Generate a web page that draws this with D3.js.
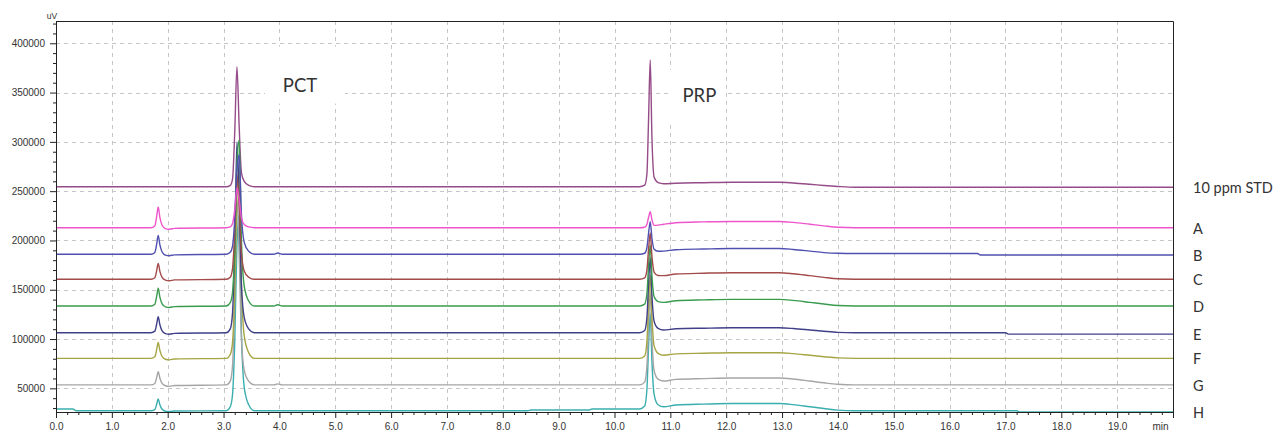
<!DOCTYPE html>
<html><head><meta charset="utf-8">
<script src="https://cdn.jsdelivr.net/npm/d3@7"></script>
<style>
html,body{margin:0;padding:0;background:#fff;}
svg{display:block;}
</style></head><body>
<svg id="chart" width="1277" height="432"></svg>
<script>
// ---------- DATA (retention time in min, signal in thousands of uV) ----------
const times = [0,0.30,0.36,
 1.70,1.77,1.80,1.83,1.86,1.90,1.96,2.03,2.12,
 3.05,3.12,3.16,3.20,3.24,3.28,3.32,3.37,3.45,3.55,
 3.90,3.97,4.05,
 8.45,8.50,9.55,9.60,
 10.45,10.54,10.58,10.61,10.64,10.67,10.71,10.78,10.88,
 11.10,11.60,12.10,12.95,13.20,13.50,13.75,14.00,14.30,
 16.50,16.55,17.00,17.05,17.20,17.25,20.00];

const seriesNames = ["10 ppm STD","A","B","C","D","E","F","G","H"];

const stdValues = [254.5,254.5,254.5,
 254.5,254.5,254.5,254.5,254.5,254.5,254.5,254.5,254.5,
 254.5,255.9,262.0,309.0,376.3,315.0,268.9,260.0,255.9,254.5,
 254.5,254.5,254.5,
 254.5,254.5,254.5,254.5,
 254.5,256.1,267.0,323.0,383.0,305.0,264.0,258.6,257.5,
 258.1,258.6,259.0,259.0,258.3,257.0,255.8,254.8,254.0,
 254.0,254.0,254.0,254.0,254.0,254.0,254.0];

const aValues = [212.9,212.9,212.9,
 212.9,215.0,223.4,233.9,223.4,215.4,212.0,211.4,212.3,
 212.9,213.7,216.9,231.0,253.2,241.1,223.0,216.1,213.7,212.9,
 212.9,212.9,212.9,
 212.9,212.9,212.9,212.9,
 212.9,213.4,216.2,223.5,229.2,221.1,215.3,215.5,216.4,
 218.0,218.8,219.3,219.3,218.3,216.4,214.8,213.4,212.9,
 212.9,212.9,212.9,212.9,212.9,212.9,212.9];

const bValues = [186.0,186.0,186.0,
 186.0,187.9,195.5,205.0,195.5,188.3,185.1,184.5,185.4,
 186.0,188.0,194.1,221.2,271.6,286.7,226.3,198.1,189.0,186.0,
 186.0,187.3,186.0,
 186.0,186.0,186.0,186.0,
 186.0,187.0,192.6,207.5,219.0,202.5,191.0,189.0,189.2,
 190.6,191.3,191.8,191.8,190.9,189.2,187.7,187.0,186.8,
 186.8,185.3,185.3,185.3,185.3,185.3,185.3];

const cValues = [160.6,160.6,160.6,
 160.6,162.2,168.7,176.8,168.7,162.5,159.7,159.1,160.0,
 160.6,162.7,171.2,208.2,266.4,234.7,187.1,169.1,162.7,160.6,
 160.6,160.6,160.6,
 160.6,160.6,160.6,160.6,
 160.6,162.0,170.0,191.2,207.6,184.1,167.7,164.5,164.3,
 166.0,166.8,167.3,167.3,166.3,164.3,162.6,161.1,160.6,
 160.6,160.6,160.6,160.6,160.6,160.6,160.6];

const dValues = [133.5,133.5,133.5,
 133.5,135.3,142.5,151.5,142.5,135.7,132.6,132.0,132.9,
 133.5,136.9,147.0,192.4,276.6,301.9,200.9,153.7,138.6,133.5,
 133.5,134.8,133.5,
 133.5,133.5,133.5,133.5,
 133.5,135.4,145.9,173.8,195.5,164.5,142.8,138.0,137.2,
 138.9,139.7,140.2,140.2,139.2,137.2,135.5,134.0,133.5,
 133.5,133.5,133.5,133.5,133.5,133.5,133.5];

const eValues = [106.4,106.4,106.4,
 106.4,108.0,114.5,122.6,114.5,108.3,105.5,104.9,105.8,
 106.4,110.3,125.8,193.5,299.9,241.9,154.8,121.9,110.3,106.4,
 106.4,106.4,106.4,
 106.4,106.4,106.4,106.4,
 106.4,108.7,121.6,155.8,182.4,144.4,117.8,110.9,109.2,
 110.4,111.0,111.4,111.4,110.7,109.2,107.9,106.8,106.4,
 106.4,106.4,106.4,105.0,105.0,105.0,105.0];

const fValues = [80.4,80.4,80.4,
 80.4,82.0,88.5,96.6,88.5,82.3,79.5,78.9,79.8,
 80.4,84.3,95.8,147.8,244.0,272.9,157.4,103.5,86.2,80.4,
 80.4,80.4,80.4,
 80.4,80.4,80.4,80.4,
 80.4,82.9,97.3,135.4,165.0,122.7,93.1,85.5,83.5,
 85.0,85.6,86.1,86.1,85.2,83.5,82.1,80.9,80.4,
 80.4,80.4,80.4,80.4,80.4,80.4,80.4];

const gValues = [53.5,53.5,53.5,
 53.5,54.9,60.3,67.0,60.3,55.1,52.6,52.0,52.9,
 53.5,57.3,72.3,137.9,241.0,184.8,100.4,68.5,57.3,53.5,
 53.5,54.5,53.5,
 53.5,53.5,53.5,53.5,
 53.5,56.3,72.3,114.6,147.5,100.5,67.6,59.4,57.4,
 59.1,59.9,60.5,60.5,59.5,57.4,55.6,54.1,53.5,
 53.5,53.5,53.5,53.5,53.5,53.5,53.5];

const hValues = [29.0,29.0,27.3,
 27.3,28.5,33.3,39.3,33.3,28.7,26.8,26.5,27.0,
 27.3,31.3,43.2,96.8,196.2,226.0,106.8,51.1,33.3,27.3,
 27.3,27.3,27.3,
 27.3,28.1,28.1,29.1,
 29.1,32.0,48.5,92.2,126.1,77.6,43.7,33.4,31.3,
 33.1,34.0,34.6,34.6,33.5,31.3,29.5,27.9,27.3,
 27.3,27.3,27.3,27.3,27.3,26.0,26.0];

const yMajorTicks = [50000,100000,150000,200000,250000,300000,350000,400000];
const xTickValues = [0,1,2,3,4,5,6,7,8,9,10,11,12,13,14,15,16,17,18,19,20];
const xTickLabels = ["0.0","1.0","2.0","3.0","4.0","5.0","6.0","7.0","8.0","9.0","10.0",
 "11.0","12.0","13.0","14.0","15.0","16.0","17.0","18.0","19.0","min"];
const peakLabels = ["PCT","PRP"];

// ---------- STYLE ----------
const seriesColors = ["#954b88","#ee55cc","#5050b0","#a34a4a","#3a9a4e","#40408a","#a6a544","#a5a5a5","#3aaeae"];
const allValues = [stdValues,aValues,bValues,cValues,dValues,eValues,fValues,gValues,hValues];
const K = 1000;

const W = 1277, H = 432;
const plot = {left:56, right:1173, top:21, bottom:412};
const x = d3.scaleLinear().domain([0,20]).range([plot.left, plot.right]);
const y = d3.scaleLinear().domain([26000,422600]).range([plot.bottom, plot.top]);

const svg = d3.select("#chart");
svg.append("rect").attr("width",W).attr("height",H).attr("fill","#fff");

// grid
const grid = svg.append("g").attr("stroke","#c6c6c6").attr("stroke-width",1).attr("stroke-dasharray","4,4");
grid.selectAll("line.h").data(yMajorTicks).join("line").attr("class","h")
  .attr("x1",plot.left).attr("x2",plot.right)
  .attr("y1",d=>Math.round(y(d))+0.5).attr("y2",d=>Math.round(y(d))+0.5);
grid.selectAll("line.v").data(xTickValues.slice(1,-1)).join("line").attr("class","v")
  .attr("y1",plot.top).attr("y2",plot.bottom)
  .attr("x1",d=>Math.round(x(d))+0.5).attr("x2",d=>Math.round(x(d))+0.5);

// clip
svg.append("defs").append("clipPath").attr("id","clip").append("rect")
  .attr("x",plot.left).attr("y",plot.top).attr("width",plot.right-plot.left).attr("height",plot.bottom-plot.top);

const series = seriesNames.map((name,i)=>({name, values:allValues[i], color:seriesColors[i]}));
const line = d3.line().x((d,i)=>x(times[i])).y(d=>y(d*K)).curve(d3.curveMonotoneX);

const drawOrder = [0,8,7,6,5,4,3,2,1];
svg.append("g").attr("clip-path","url(#clip)")
  .selectAll("path").data(drawOrder.map(i=>series[i])).join("path")
  .attr("d",d=>line(d.values)).attr("fill","none")
  .attr("stroke",d=>d.color).attr("stroke-width",1.4).attr("stroke-linejoin","round");

// peak annotations with white backgrounds
const pctX = x(4.37), pctY = y(351000);
const prpX = x(11.52), prpY = y(340700);
svg.append("rect").attr("x",pctX-35).attr("y",pctY-45).attr("width",80).attr("height",57).attr("fill","#fff");
svg.append("rect").attr("x",prpX-31).attr("y",prpY-32).attr("width",57).attr("height",55).attr("fill","#fff");
svg.append("text").attr("x",pctX).attr("y",pctY).attr("text-anchor","middle")
  .attr("font-family","Lato, 'Open Sans', sans-serif").attr("font-size",18.5).attr("fill","#333").text(peakLabels[0]);
svg.append("text").attr("x",prpX).attr("y",prpY).attr("text-anchor","middle")
  .attr("font-family","Lato, 'Open Sans', sans-serif").attr("font-size",18.5).attr("fill","#333").text(peakLabels[1]);

// axes
const tickFont = "'Liberation Sans', Arial, sans-serif";
const yMinor = d3.range(3,43).map(i=>i*10000).filter(v=>v%50000!==0);
svg.append("g").attr("transform",`translate(${plot.left},0)`)
  .call(d3.axisLeft(y).tickValues(yMinor).tickSize(3).tickSizeOuter(0).tickFormat(""))
  .call(g=>g.select(".domain").remove());
const yAx = svg.append("g").attr("transform",`translate(${plot.left},0)`)
  .call(d3.axisLeft(y).tickValues(yMajorTicks).tickSize(6).tickSizeOuter(0).tickPadding(5).tickFormat(d3.format("d")));
yAx.selectAll("text").attr("font-family",tickFont).attr("font-size",10).attr("fill","#333");

const xMinor = d3.range(1,100).filter(i=>i%5!==0).map(i=>i/5);
svg.append("g").attr("transform",`translate(0,${plot.bottom})`)
  .call(d3.axisBottom(x).tickValues(xMinor).tickSize(3).tickSizeOuter(0).tickFormat(""))
  .call(g=>g.select(".domain").remove());
const xAx = svg.append("g").attr("transform",`translate(0,${plot.bottom})`)
  .call(d3.axisBottom(x).tickValues(xTickValues).tickSize(6).tickSizeOuter(0).tickPadding(5).tickFormat((d,i)=>xTickLabels[i]));
xAx.selectAll("text").attr("font-family",tickFont).attr("font-size",10).attr("fill","#333");
xAx.selectAll(".tick:last-of-type text").attr("text-anchor","end").attr("dx",-5);
svg.selectAll(".domain").attr("stroke","#222");
svg.selectAll(".tick line").attr("stroke","#222");

// frame top/right
svg.append("path").attr("d",`M${plot.left},${plot.top+0.5}H${plot.right+0.5}V${plot.bottom}`)
  .attr("fill","none").attr("stroke","#222");

// unit label
svg.append("text").attr("x",52).attr("y",19).attr("text-anchor","middle")
  .attr("font-family",tickFont).attr("font-size",8.5).attr("fill","#333").text("uV");

// series labels
svg.append("g").selectAll("text").data(series).join("text")
  .attr("x",1193).attr("y",d=>y(d.values[d.values.length-1]*K)+1).attr("dy","0.35em")
  .attr("font-family","Lato, 'Open Sans', sans-serif").attr("font-size",14.5).attr("fill","#333")
  .text(d=>d.name);
</script>
</body></html>
